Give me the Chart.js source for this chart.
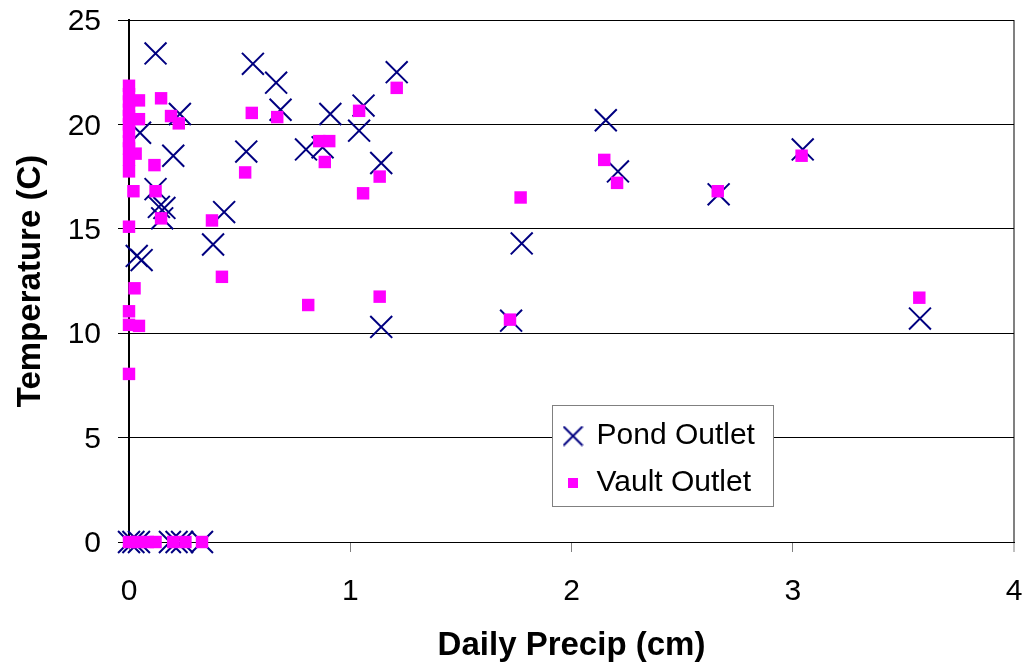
<!DOCTYPE html>
<html>
<head>
<meta charset="utf-8">
<script src="https://cdn.jsdelivr.net/npm/chart.js@4/dist/chart.umd.min.js"></script>
<style>
  html, body { margin: 0; padding: 0; background: #ffffff; }
  #wrap { width: 1025px; height: 667px; }
</style>
</head>
<body>
<div id="wrap"><canvas id="c" width="1025" height="667"></canvas></div>
<script>
// Series names
const seriesNames = ['Pond Outlet', 'Vault Outlet'];

// Pond outlet: daily precipitation (cm) and water temperature (C)
const pondPrecip = [0.12, 0.56, 0.665, 0.685, 0.23, 0.05, 0.2, 0.53, 0.80, 0.875,
  0.91, 1.06, 1.04, 1.14, 1.14, 1.21, 0.12, 0.135, 0.16, 0.15,
  0.43, 0.38, 0.035, 0.057, 2.155, 2.21, 2.665, 1.775, 1.727, 3.045,
  3.575, 0, 0.02, 0.045, 0.185, 0.215, 0.24, 0.33];
const pondTemp = [23.4, 22.9, 22.0, 20.7, 20.5, 19.6, 18.5, 18.7, 18.8, 18.9,
  20.5, 20.9, 19.7, 18.15, 10.3, 22.5, 16.9, 16.05, 16.0, 15.5,
  15.8, 14.25, 13.7, 13.5, 20.2, 17.75, 16.65, 14.3, 10.6, 18.8,
  10.7, 0, 0, 0, 0, 0, 0, 0];

// Vault outlet: daily precipitation (cm) and water temperature (C)
const vaultPrecip = [0, 0, 0.045, 0.145, 0, 0, 0.045, 0.19, 0.225, 0,
  0, 0.03, 0, 0, 0.115, 0.02, 0.12, 0.145, 0.375, 0,
  0.42, 0.025, 0, 0, 0.045, 0, 0.555, 0.67, 0.525, 1.21,
  1.04, 0.86, 0.905, 0.885, 1.133, 1.058, 0.81, 1.133, 2.148, 2.206,
  2.661, 1.77, 1.722, 3.04, 3.572, 0, 0, 0,
  0, 0.04, 0.085, 0.12, 0.2, 0.255, 0.33];
const vaultTemp = [21.85, 21.45, 21.15, 21.25, 20.7, 20.4, 20.25, 20.4, 20.05, 19.65,
  19.2, 18.6, 18.3, 17.75, 18.05, 16.8, 16.8, 15.5, 15.4, 15.1,
  12.7, 12.15, 11.05, 10.4, 10.35, 8.05, 20.55, 20.35, 17.7, 21.75,
  20.65, 19.2, 19.2, 18.2, 17.5, 16.7, 11.35, 11.75, 18.3, 17.2,
  16.8, 16.5, 10.65, 18.5, 11.7, 21.1, 20.0, 18.85,
  0, 0, 0, 0, 0, 0, 0];

// Axis tick values
const xTickValues = [0, 1, 2, 3, 4];
const yTickValues = [0, 5, 10, 15, 20, 25];

const NAVY = '#000080';
const MAGENTA = '#FF00FF';
const FONT = "Arial, 'Liberation Sans', sans-serif";

function pairs(xs, ys) {
  return xs.map((x, i) => ({ x: x, y: ys[i] }));
}

// Small marker images for the legend entries
function crossMark(size) {
  const cv = document.createElement('canvas');
  cv.width = size; cv.height = size;
  const g = cv.getContext('2d');
  g.strokeStyle = NAVY; g.lineWidth = 2;
  g.beginPath();
  g.moveTo(1, 1); g.lineTo(size - 1, size - 1);
  g.moveTo(size - 1, 1); g.lineTo(1, size - 1);
  g.stroke();
  return cv;
}
function squareMark(size) {
  const cv = document.createElement('canvas');
  cv.width = size; cv.height = size;
  const g = cv.getContext('2d');
  g.fillStyle = MAGENTA;
  g.fillRect(0, 0, size, size);
  return cv;
}
const legendMarks = [crossMark(21), squareMark(10)];

// Legend frame, drawn on top of the gridlines
const LEGEND_BOX = { left: 552, top: 405, width: 221, height: 101 };
const LEGEND_PAD = 17;
const LEGEND_MARK_W = 17;
const legendFrame = {
  id: 'legendFrame',
  afterInit(chart) {
    const lg = chart.legend;
    if (lg) {
      lg._layers = () => [{ z: 1, draw: (area) => lg.draw(area) }];
    }
  },
  afterLayout(chart) {
    const lg = chart.legend;
    if (!lg) return;
    lg.left = 573 - LEGEND_PAD - LEGEND_MARK_W / 2;
    lg.top = LEGEND_BOX.top - 1;
    lg.right = LEGEND_BOX.left + LEGEND_BOX.width;
    lg.bottom = LEGEND_BOX.top + 200;
  },
  afterDatasetsDraw(chart) {
    const ctx = chart.ctx;
    ctx.save();
    ctx.fillStyle = '#ffffff';
    ctx.fillRect(LEGEND_BOX.left, LEGEND_BOX.top, LEGEND_BOX.width, LEGEND_BOX.height);
    ctx.strokeStyle = '#808080';
    ctx.lineWidth = 1;
    ctx.strokeRect(LEGEND_BOX.left + 0.5, LEGEND_BOX.top + 0.5, LEGEND_BOX.width, LEGEND_BOX.height);
    ctx.restore();
  }
};

new Chart(document.getElementById('c'), {
  type: 'scatter',
  data: {
    datasets: [
      {
        label: seriesNames[0],
        data: pairs(pondPrecip, pondTemp),
        pointStyle: 'crossRot',
        pointRadius: 15.5,
        pointHoverRadius: 15.5,
        borderColor: NAVY,
        backgroundColor: NAVY,
        borderWidth: 2,
        clip: false,
        order: 1
      },
      {
        label: seriesNames[1],
        data: pairs(vaultPrecip, vaultTemp),
        pointStyle: 'rect',
        pointRadius: 8.8,
        pointHoverRadius: 8.8,
        borderColor: MAGENTA,
        backgroundColor: MAGENTA,
        borderWidth: 0,
        clip: false,
        order: 0
      }
    ]
  },
  options: {
    responsive: false,
    animation: false,
    events: [],
    layout: { autoPadding: false, padding: { left: 0, top: 20, right: 11, bottom: 0 } },
    plugins: {
      tooltip: { enabled: false },
      legend: {
        position: 'chartArea',
        align: 'start',
        sort: (a, b) => a.datasetIndex - b.datasetIndex,
        labels: {
          usePointStyle: true,
          boxWidth: LEGEND_MARK_W,
          boxHeight: 20,
          padding: LEGEND_PAD,
          color: '#000000',
          font: { family: FONT, size: 30 },
          generateLabels(chart) {
            return chart.data.datasets.map((ds, i) => ({
              text: ds.label,
              datasetIndex: i,
              pointStyle: legendMarks[i],
              fillStyle: ds.backgroundColor,
              strokeStyle: ds.borderColor,
              fontColor: '#000000',
              lineWidth: 0,
              hidden: false
            }));
          }
        }
      }
    },
    scales: {
      x: {
        type: 'linear',
        min: 0,
        max: 4,
        afterBuildTicks(scale) { scale.ticks = xTickValues.map(v => ({ value: v })); },
        afterFit(scale) {
          scale.height = 125;
          scale.paddingLeft = 0;
          scale.paddingRight = 0;
        },
        border: { display: true, color: '#000000', width: 1 },
        grid: {
          drawOnChartArea: true,
          color: (c) => (c.tick && c.tick.value === 4) ? '#808080' : 'rgba(0,0,0,0)',
          lineWidth: (c) => (c.tick && c.tick.value === 4) ? 2 : 1,
          tickColor: '#808080',
          tickLength: 10,
          tickWidth: 1
        },
        ticks: {
          color: '#000000',
          font: { family: FONT, size: 30 },
          padding: 22,
          maxRotation: 0
        },
        title: {
          display: true,
          text: 'Daily Precip (cm)',
          color: '#000000',
          font: { family: FONT, size: 33, weight: 'bold' },
          padding: { top: 0, bottom: 1 }
        }
      },
      y: {
        type: 'linear',
        min: 0,
        max: 25,
        afterBuildTicks(scale) { scale.ticks = yTickValues.map(v => ({ value: v })); },
        afterFit(scale) {
          scale.width = 129;
          scale.paddingTop = 0;
          scale.paddingBottom = 0;
        },
        border: { display: true, color: '#000000', width: 2 },
        grid: {
          color: '#000000',
          lineWidth: 1,
          tickColor: '#000000',
          tickLength: 11
        },
        ticks: {
          color: '#000000',
          font: { family: FONT, size: 30 },
          padding: 17,
          labelOffset: 2
        },
        title: {
          display: true,
          text: 'Temperature (C)',
          color: '#000000',
          font: { family: FONT, size: 33, weight: 'bold' },
          padding: { top: 11, bottom: 0 }
        }
      }
    }
  },
  plugins: [legendFrame]
});
</script>
</body>
</html>
